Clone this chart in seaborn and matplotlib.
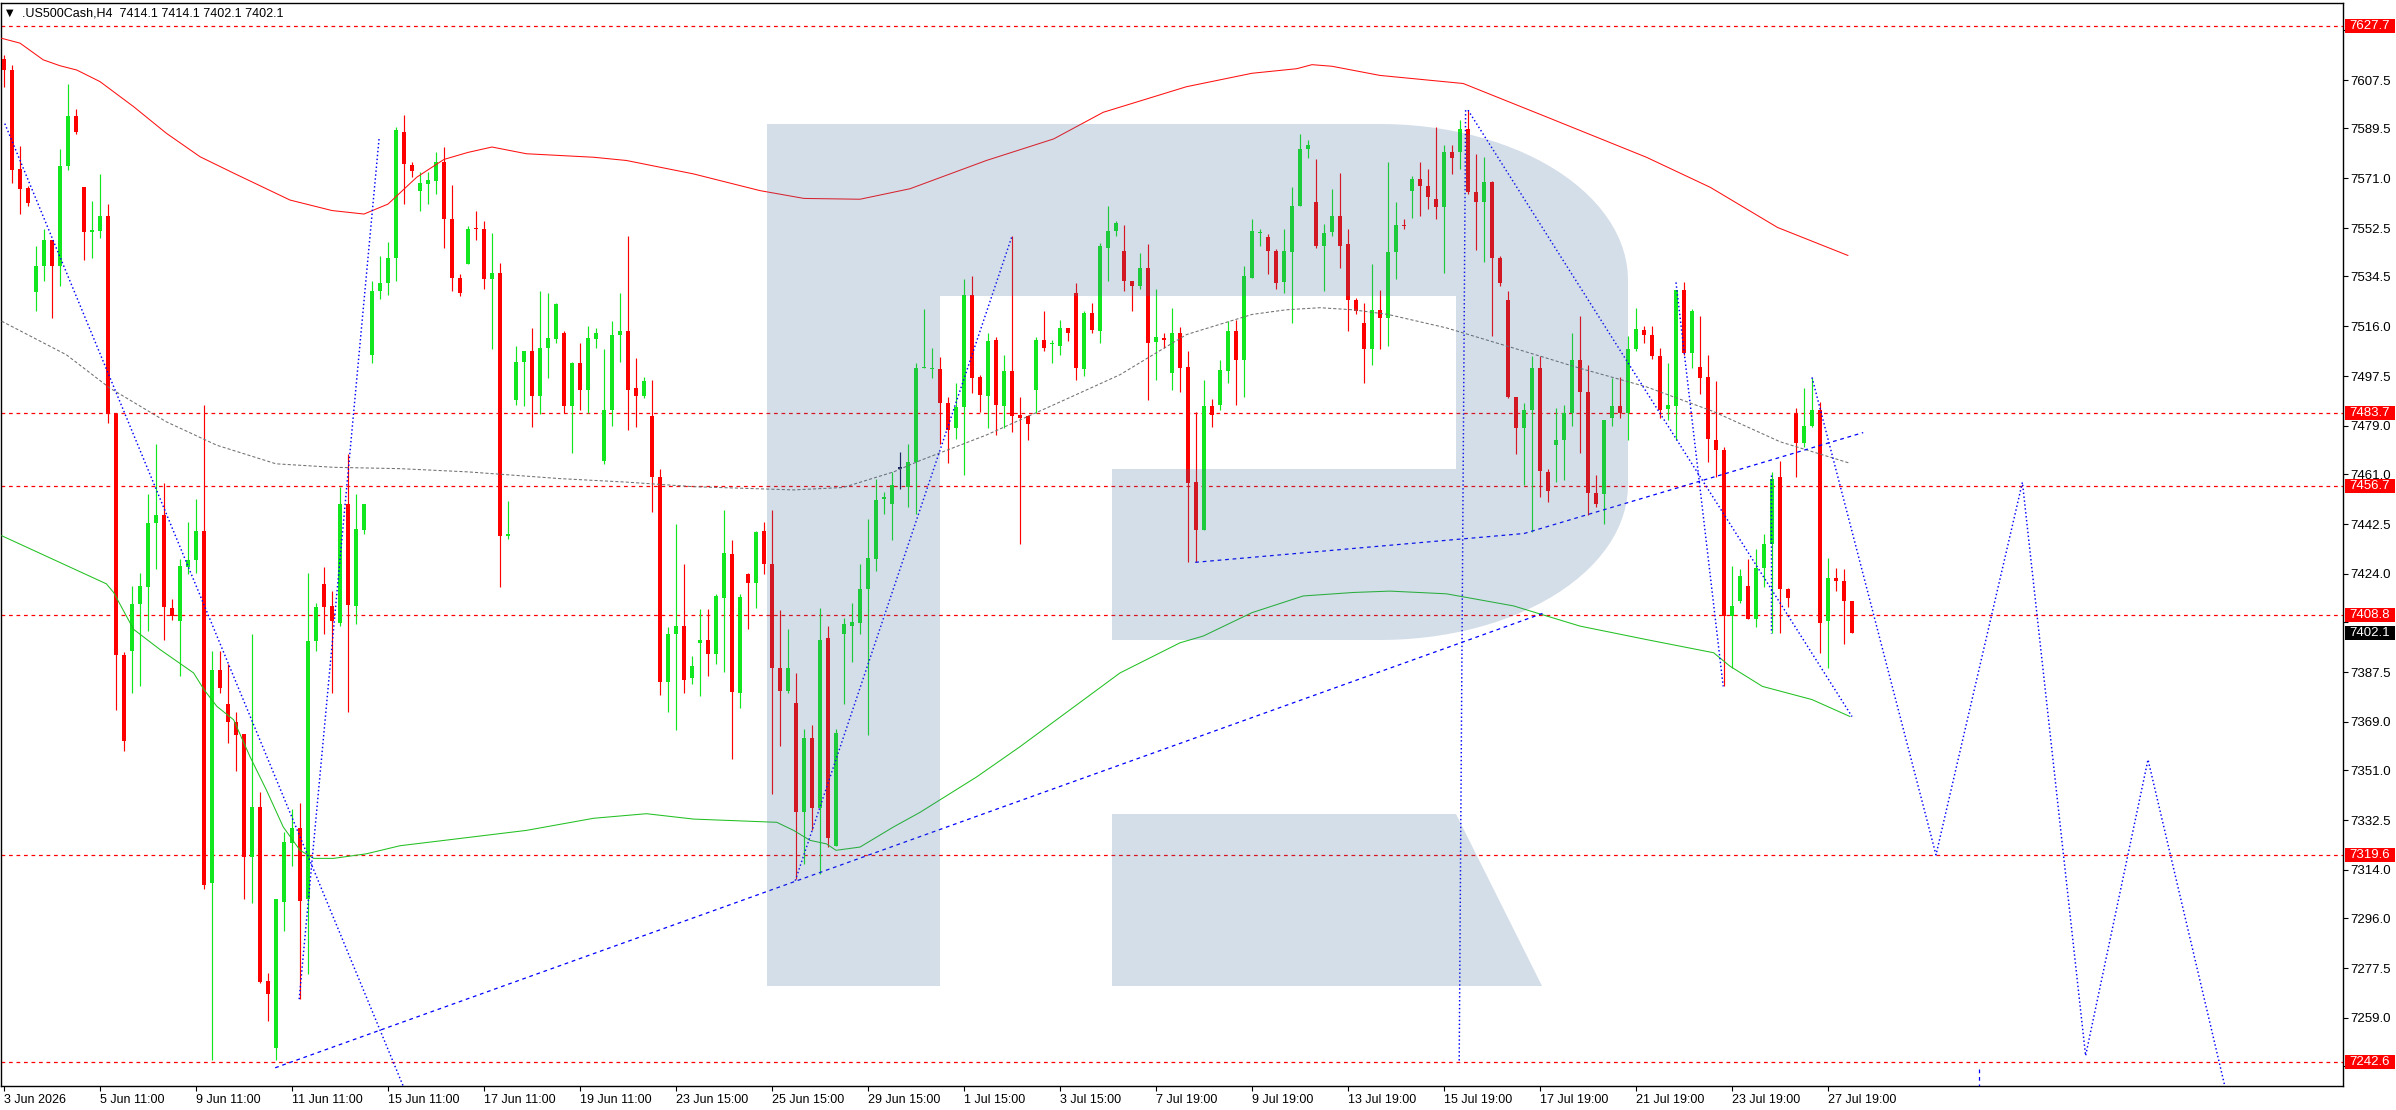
import numpy as np
import pandas as pd
import matplotlib
matplotlib.use("Agg")
import matplotlib.pyplot as plt
import matplotlib.patches as mpatches
import matplotlib.transforms as mtrans
import seaborn as sns

# ---------------- data (H4 candles, bar index 0..231) ----------------
opens = [7615.4, 7611.2, 7574.4, 7567.4, 7528.6, 7538.3, 7548.2, 7538.3, 7575.6, 7594.3,
         7567.6, 7551.2, 7551.5, 7557.0, 7483.5, 7393.9, 7395.2, 7412.7, 7419.1, 7442.8,
         7446.0, 7411.4, 7406.4, 7426.5, 7429.0, 7440.0, 7309.3, 7388.2, 7375.5, 7369.0,
         7364.5, 7318.8, 7337.4, 7272.7, 7247.8, 7302.1, 7324.0, 7329.5, 7303.1, 7399.2,
         7420.3, 7412.1, 7405.9, 7449.9, 7412.1, 7440.2, 7505.4, 7529.1, 7532.1, 7541.3,
         7588.3, 7576.1, 7566.2, 7568.7, 7570.1, 7577.1, 7555.7, 7534.0, 7539.0, 7552.6,
         7552.2, 7533.6, 7535.8, 7438.2, 7488.5, 7502.9, 7506.7, 7490.0, 7507.9, 7511.1,
         7513.6, 7486.3, 7502.2, 7492.5, 7511.1, 7466.1, 7485.0, 7512.9, 7514.1, 7493.0,
         7490.0, 7482.5, 7459.9, 7384.0, 7401.6, 7404.6, 7385.2, 7398.4, 7399.4, 7394.2,
         7415.1, 7431.3, 7379.7, 7423.8, 7420.8, 7440.0, 7427.5, 7389.2, 7380.5, 7376.0,
         7335.4, 7363.1, 7336.9, 7400.1, 7323.0, 7401.6, 7404.6, 7405.9, 7418.3, 7429.5,
         7451.7, 7449.9, 7463.1, 7456.4, 7465.6, 7500.4, 7500.0, 7500.0, 7487.5, 7478.1,
         7486.0, 7527.8, 7497.2, 7490.0, 7510.9, 7486.3, 7499.2, 7483.0, 7482.5, 7492.2,
         7510.9, 7509.4, 7508.7, 7515.4, 7528.3, 7500.0, 7521.1, 7514.1, 7545.2, 7551.5,
         7544.0, 7532.8, 7530.8, 7537.8, 7510.2, 7511.6, 7498.5, 7513.6, 7500.9, 7458.1,
         7440.2, 7486.3, 7486.8, 7499.2, 7514.1, 7503.4, 7534.0, 7550.6, 7549.0, 7544.0,
         7532.3, 7543.5, 7560.7, 7581.8, 7562.0, 7545.7, 7551.0, 7557.0, 7546.5, 7525.8,
         7517.1, 7507.4, 7522.1, 7519.1, 7543.5, 7553.7, 7566.4, 7570.9, 7568.1, 7563.4,
         7560.2, 7580.8, 7580.8, 7589.3, 7565.9, 7562.0, 7569.6, 7541.5, 7525.8, 7489.7,
         7478.1, 7484.8, 7500.4, 7461.9, 7471.8, 7473.6, 7483.8, 7503.4, 7491.7, 7453.9,
         7453.7, 7481.8, 7486.3, 7483.8, 7507.4, 7514.6, 7512.6, 7504.9, 7485.2, 7486.3,
         7529.6, 7505.9, 7500.9, 7497.2, 7473.8, 7470.1, 7408.4, 7414.1, 7419.6, 7407.1,
         7426.3, 7435.2, 7460.1, 7418.3, 7483.8, 7472.6, 7478.8, 7485.0, 7406.4, 7422.5,
         7421.5, 7414.1]
highs = [7616.9, 7613.2, 7583.1, 7568.0, 7545.7, 7552.2, 7548.2, 7581.8, 7606.0, 7596.8,
         7567.6, 7562.7, 7572.6, 7561.4, 7483.5, 7395.0, 7419.6, 7424.5, 7453.7, 7472.3,
         7457.6, 7414.6, 7429.5, 7443.2, 7451.9, 7486.8, 7395.2, 7395.2, 7390.4, 7372.8,
         7364.5, 7401.6, 7342.9, 7275.7, 7303.1, 7328.0, 7336.7, 7338.7, 7424.5, 7413.3,
         7426.5, 7417.6, 7456.4, 7468.6, 7453.7, 7449.9, 7532.8, 7542.0, 7547.2, 7590.0,
         7594.5, 7576.9, 7573.4, 7573.4, 7580.8, 7582.6, 7568.6, 7535.3, 7553.2, 7558.9,
         7555.2, 7550.7, 7539.5, 7451.2, 7508.7, 7506.7, 7515.4, 7529.1, 7528.3, 7524.8,
         7514.1, 7502.9, 7509.9, 7516.1, 7515.4, 7507.4, 7517.9, 7528.3, 7549.5, 7504.2,
         7497.2, 7496.0, 7463.1, 7404.1, 7442.5, 7427.5, 7393.4, 7410.9, 7410.9, 7416.6,
         7447.7, 7436.5, 7416.6, 7424.5, 7440.0, 7443.2, 7447.7, 7410.4, 7403.4, 7387.2,
         7366.5, 7367.8, 7411.4, 7404.6, 7366.5, 7407.6, 7413.3, 7427.5, 7444.4, 7459.4,
         7454.4, 7461.9, 7469.3, 7472.3, 7502.4, 7522.4, 7507.9, 7504.7, 7489.7, 7495.0,
         7533.5, 7534.5, 7497.9, 7513.6, 7512.1, 7505.4, 7549.5, 7489.7, 7483.0, 7512.1,
         7521.6, 7510.9, 7518.4, 7515.4, 7532.1, 7521.6, 7524.6, 7547.0, 7560.7, 7555.2,
         7553.5, 7532.8, 7543.3, 7546.5, 7529.8, 7513.6, 7522.9, 7515.9, 7506.7, 7484.3,
         7496.2, 7488.8, 7503.4, 7517.9, 7518.4, 7538.3, 7555.7, 7552.2, 7550.2, 7544.8,
         7552.2, 7567.6, 7587.6, 7585.1, 7578.1, 7554.0, 7567.1, 7573.1, 7552.0, 7526.6,
         7524.6, 7539.0, 7529.6, 7576.9, 7562.0, 7555.7, 7571.9, 7576.9, 7574.4, 7590.0,
         7583.3, 7583.3, 7592.5, 7596.3, 7580.1, 7578.8, 7570.1, 7542.0, 7529.1, 7489.7,
         7487.5, 7504.9, 7504.9, 7463.1, 7485.5, 7486.8, 7513.6, 7519.9, 7501.7, 7460.6,
         7481.3, 7496.7, 7497.2, 7512.4, 7522.9, 7516.1, 7516.1, 7507.9, 7502.4, 7529.6,
         7532.3, 7522.4, 7519.9, 7505.4, 7495.5, 7471.3, 7427.0, 7425.8, 7429.5, 7433.2,
         7439.0, 7461.9, 7466.1, 7418.8, 7485.5, 7493.0, 7496.7, 7488.0, 7430.0, 7426.3,
         7425.8, 7414.1]
lows = [7605.0, 7569.4, 7557.7, 7560.7, 7521.6, 7532.8, 7518.9, 7531.1, 7573.9, 7587.6,
        7540.8, 7541.5, 7548.7, 7480.0, 7373.5, 7358.1, 7379.7, 7382.2, 7402.9, 7425.8,
        7399.6, 7406.9, 7386.0, 7423.8, 7424.5, 7306.8, 7243.4, 7379.7, 7361.1, 7350.6,
        7303.3, 7301.8, 7272.0, 7258.0, 7243.4, 7291.4, 7315.5, 7266.0, 7275.2, 7395.2,
        7401.6, 7379.7, 7404.6, 7372.8, 7405.4, 7439.0, 7502.4, 7526.1, 7527.8, 7532.8,
        7561.4, 7571.4, 7558.9, 7561.4, 7565.2, 7545.2, 7529.1, 7527.1, 7539.0, 7548.2,
        7529.8, 7507.4, 7419.3, 7437.0, 7486.8, 7486.3, 7478.5, 7483.5, 7496.7, 7509.6,
        7483.8, 7468.8, 7485.0, 7483.8, 7507.9, 7464.9, 7478.8, 7502.9, 7477.3, 7478.5,
        7489.3, 7447.0, 7379.0, 7372.8, 7366.1, 7379.7, 7383.0, 7378.5, 7386.0, 7390.4,
        7387.7, 7355.4, 7374.0, 7403.4, 7411.4, 7423.8, 7342.4, 7359.9, 7379.7, 7310.5,
        7316.3, 7328.7, 7312.5, 7322.5, 7323.0, 7375.5, 7391.4, 7401.6, 7364.1, 7425.0,
        7446.4, 7436.5, 7455.7, 7448.7, 7446.4, 7500.4, 7496.7, 7472.3, 7465.1, 7474.3,
        7460.6, 7491.2, 7484.3, 7478.1, 7475.6, 7478.1, 7476.8, 7435.2, 7473.6, 7483.8,
        7506.7, 7502.2, 7505.4, 7510.4, 7496.0, 7497.5, 7513.6, 7509.9, 7532.8, 7549.5,
        7529.1, 7521.6, 7529.8, 7488.5, 7496.0, 7507.9, 7492.5, 7491.7, 7428.3, 7428.3,
        7440.2, 7478.5, 7484.8, 7495.0, 7486.8, 7489.7, 7534.0, 7546.0, 7535.3, 7529.8,
        7528.3, 7517.4, 7560.7, 7578.4, 7545.2, 7529.1, 7549.5, 7537.8, 7514.1, 7520.4,
        7495.0, 7501.7, 7507.4, 7508.7, 7533.5, 7552.0, 7556.4, 7557.0, 7559.4, 7555.7,
        7535.8, 7572.6, 7574.6, 7565.2, 7544.5, 7539.8, 7512.4, 7531.1, 7489.3, 7468.6,
        7456.9, 7439.5, 7452.4, 7450.7, 7458.1, 7458.9, 7478.8, 7468.8, 7445.7, 7448.7,
        7442.7, 7478.8, 7481.8, 7473.6, 7506.7, 7509.7, 7503.7, 7481.8, 7481.0, 7473.6,
        7505.4, 7500.4, 7491.0, 7465.6, 7460.1, 7382.2, 7389.0, 7413.3, 7407.1, 7404.1,
        7419.1, 7402.1, 7402.1, 7411.6, 7460.1, 7471.3, 7478.5, 7394.7, 7389.2, 7417.8,
        7397.9, 7402.1]
closes = [7611.2, 7573.9, 7566.9, 7561.9, 7538.5, 7548.2, 7538.3, 7575.6, 7594.3, 7588.3,
          7551.0, 7551.4, 7557.0, 7483.5, 7393.9, 7361.8, 7412.9, 7419.6, 7443.0, 7446.0,
          7411.6, 7408.4, 7427.0, 7429.0, 7440.0, 7308.3, 7388.2, 7381.7, 7369.0, 7364.3,
          7318.8, 7337.4, 7272.2, 7267.8, 7303.1, 7324.3, 7329.5, 7302.6, 7399.2, 7411.6,
          7411.6, 7406.4, 7449.9, 7412.6, 7440.7, 7449.9, 7529.1, 7532.1, 7541.3, 7588.8,
          7576.4, 7573.6, 7569.1, 7570.4, 7577.1, 7555.7, 7534.0, 7528.3, 7552.2, 7552.2,
          7533.6, 7535.8, 7438.2, 7439.0, 7502.9, 7506.7, 7490.0, 7507.9, 7511.6, 7524.1,
          7486.3, 7502.2, 7492.5, 7511.6, 7513.4, 7485.0, 7512.9, 7514.1, 7492.5, 7490.0,
          7495.5, 7459.9, 7384.0, 7401.6, 7404.6, 7384.7, 7389.7, 7399.4, 7394.2, 7415.8,
          7431.8, 7380.2, 7415.3, 7420.8, 7439.5, 7427.5, 7389.2, 7380.5, 7389.2, 7335.4,
          7363.1, 7336.9, 7399.6, 7325.7, 7364.8, 7405.4, 7406.1, 7418.3, 7430.0, 7451.4,
          7452.7, 7456.9, 7463.1, 7465.6, 7500.4, 7501.0, 7500.4, 7487.5, 7477.6, 7486.0,
          7527.8, 7496.7, 7490.5, 7510.4, 7486.8, 7499.2, 7482.5, 7481.8, 7479.8, 7510.9,
          7507.9, 7509.9, 7515.4, 7513.4, 7500.4, 7520.9, 7514.6, 7546.0, 7551.5, 7554.5,
          7532.8, 7530.8, 7537.8, 7509.7, 7512.1, 7510.9, 7513.6, 7500.4, 7457.6, 7440.2,
          7486.3, 7483.0, 7499.7, 7514.1, 7503.4, 7534.5, 7551.5, 7551.2, 7544.0, 7532.1,
          7544.0, 7560.7, 7581.8, 7583.3, 7545.7, 7550.7, 7557.0, 7545.7, 7525.8, 7521.6,
          7507.4, 7522.1, 7519.1, 7543.5, 7553.5, 7553.2, 7570.9, 7568.1, 7563.9, 7560.2,
          7580.8, 7578.4, 7589.3, 7565.9, 7562.0, 7569.6, 7541.5, 7532.1, 7489.7, 7478.1,
          7484.8, 7500.4, 7462.4, 7454.9, 7473.6, 7483.8, 7503.4, 7491.7, 7453.9, 7449.9,
          7481.3, 7486.3, 7483.8, 7507.4, 7514.9, 7512.9, 7504.9, 7485.0, 7486.8, 7529.6,
          7505.9, 7521.6, 7496.7, 7474.3, 7470.1, 7408.4, 7412.1, 7423.3, 7407.1, 7426.3,
          7435.2, 7459.4, 7418.3, 7415.1, 7472.6, 7478.8, 7485.0, 7405.9, 7422.5, 7421.3,
          7413.8, 7402.1]

# moving-average style curves (bar index, price)
ma_upper_x = [-0.3, 2, 4.9, 7, 9.1, 12, 16.2, 20.3, 24.5, 28.7, 35.75, 41, 45, 48, 51.6, 55, 58,
              61, 65.3, 73.7, 77.8, 86.2, 94.5, 100, 107, 113.25, 122.8, 131.2, 137.4, 147.8,
              156, 161.6, 163.5, 166, 172, 182.4, 192.8, 205.3, 213.3, 221.7, 230.5]
ma_upper_y = [7623.0, 7621.2, 7615.0, 7612.8, 7611.2, 7606.9, 7597.6, 7587.7, 7579.0, 7572.9,
              7562.9, 7559.0, 7557.7, 7561.4, 7571.4, 7578.0, 7580.6, 7582.6, 7580.1, 7578.8,
              7577.6, 7572.6, 7566.4, 7563.5, 7563.2, 7567.1, 7577.6, 7585.6, 7595.5, 7605.0,
              7610.0, 7611.7, 7613.2, 7612.6, 7609.2, 7606.2, 7593.8, 7578.8, 7567.6, 7552.7,
              7542.3]
ma_mid_x = [-0.3, 7.8, 13.25, 20.3, 26.6, 34, 41.2, 49.5, 58, 69.5, 77.8, 86.2, 98.7, 104.9,
            111.2, 114.5, 122.8, 131.2, 139.5, 147.8, 156, 160.2, 164.5, 168.7, 173, 180.3,
            188.7, 197, 205.3, 213.7, 222, 230.75]
ma_mid_y = [7517.9, 7505.4, 7493.0, 7480.5, 7471.8, 7464.9, 7463.6, 7463.1, 7461.9, 7459.4,
            7458.1, 7456.4, 7455.2, 7456.1, 7461.9, 7466.1, 7475.6, 7486.8, 7498.0, 7512.9,
            7520.4, 7522.1, 7522.9, 7522.1, 7520.4, 7515.4, 7507.9, 7500.4, 7493.5, 7484.3,
            7473.1, 7465.1]
ma_lower_x = [-0.3, 12.8, 13.7, 16.2, 19.5, 23.7, 25, 26.6, 28.7, 30.75, 32.8, 34.9, 37, 38.7,
              41.2, 45.3, 49.5, 57, 65.3, 73.7, 80.3, 86.2, 96.6, 98.7, 100.75, 102.8, 104, 107,
              111.2, 114.5, 121.6, 127, 133.25, 139.5, 147, 149.9, 156, 162.4, 168.7, 173.25,
              180.3, 188.7, 197, 205.3, 213.7, 215.75, 219.8, 226, 230.75]
ma_lower_y = [7438.2, 7420.3, 7417.1, 7403.4, 7395.9, 7387.2, 7381.0, 7374.8, 7369.8, 7356.1,
              7343.7, 7330.0, 7321.3, 7318.3, 7318.3, 7320.0, 7323.0, 7325.7, 7328.7, 7333.2,
              7334.9, 7332.9, 7331.7, 7328.7, 7325.0, 7323.7, 7321.3, 7322.5, 7330.0, 7335.4,
              7348.6, 7359.8, 7373.5, 7387.2, 7398.4, 7400.9, 7409.6, 7415.8, 7417.1, 7417.6,
              7416.6, 7412.1, 7404.6, 7399.6, 7394.7, 7389.7, 7382.2, 7377.3, 7371.0]

# drawn trend / forecast lines (bar index, price)
dotted_lines = [
    ([0.1, 49.9], [7591.3, 7233.7]),
    ([36.9, 46.9], [7266.0, 7586.3]),
    ([98.9, 126.0], [7310.0, 7549.5]),
    ([183.0, 231.0], [7596.3, 7371.0]),
    ([182.7, 181.9], [7596.3, 7242.6]),
    ([209.0, 214.9], [7532.3, 7382.2]),
    ([220.9, 220.9], [7460.6, 7402.1]),
    ([226.0, 241.5, 252.3, 260.2, 268.0, 277.6], [7497.0, 7319.6, 7458.0, 7245.0, 7355.0, 7233.7]),
]
dashed_lines = [
    ([33.9, 192.5], [7240.5, 7409.5]),
    ([148.9, 190.0, 232.4], [7428.3, 7439.0, 7476.5]),
    ([246.9, 246.9], [7240.0, 7233.7]),
]

level_values = [7627.7, 7483.7, 7456.7, 7408.8, 7319.6, 7242.6]
last_price = 7402.1
y_tick_values = [7626.0, 7607.5, 7589.5, 7571.0, 7552.5, 7534.5, 7516.0, 7497.5, 7479.0, 7461.0,
                 7442.5, 7424.0, 7406.0, 7387.5, 7369.0, 7351.0, 7332.5, 7314.0, 7296.0, 7277.5,
                 7259.0, 7241.0]
y_hidden_ticks = [7626.0, 7406.0, 7241.0]   # covered by the price boxes in the chart
x_tick_bars = [0, 12, 24, 36, 48, 60, 72, 84, 96, 108, 120, 132, 144, 156, 168, 180, 192, 204, 216, 228]
x_tick_labels = ["3 Jun 2026", "5 Jun 11:00", "9 Jun 11:00", "11 Jun 11:00", "15 Jun 11:00",
                 "17 Jun 11:00", "19 Jun 11:00", "23 Jun 15:00", "25 Jun 15:00", "29 Jun 15:00",
                 "1 Jul 15:00", "3 Jul 15:00", "7 Jul 19:00", "9 Jul 19:00", "13 Jul 19:00",
                 "15 Jul 19:00", "17 Jul 19:00", "21 Jul 19:00", "23 Jul 19:00", "27 Jul 19:00"]
title_text = ".US500Cash,H4  7414.1 7414.1 7402.1 7402.1"

# ---------------- styling ----------------
sns.set_theme(style="white")
plt.rcParams["font.family"] = ["Liberation Sans", "DejaVu Sans"]

W, H = 2396, 1110
fig = plt.figure(figsize=(W / 100, H / 100), dpi=100)
AX_L, AX_R, AX_T, AX_B = 1, 2343, 3, 1086
ax = fig.add_axes([AX_L / W, (H - AX_B) / H, (AX_R - AX_L) / W, (AX_B - AX_T) / H])
ax.set_facecolor("white")

XMIN, XMAX = -0.375, 292.375
YMIN, YMAX = 7233.73, 7636.11
ax.set_xlim(XMIN, XMAX)
ax.set_ylim(YMIN, YMAX)

UP, DOWN, DOJI = "#12e61e", "#ff0000", "#141450"

df = pd.DataFrame({"bar": np.arange(len(opens)), "open": opens, "high": highs,
                   "low": lows, "close": closes})
diff = df["close"] - df["open"]
colors = np.where(diff.abs() < 0.05, DOJI, np.where(diff > 0, UP, DOWN))

# level lines
for lv in level_values:
    ax.axhline(lv, color="#ff0000", lw=0.9, ls=(0, (3, 3)), zorder=1)

# candles
ax.vlines(df["bar"], df["low"], df["high"], colors=colors, lw=0.85, zorder=3)
body_bottom = np.minimum(df["open"], df["close"])
body_h = np.maximum(diff.abs(), 0.45)
ax.bar(df["bar"], body_h, bottom=body_bottom, width=0.62, color=colors, linewidth=0, zorder=3)

# moving averages via seaborn
sns.lineplot(x=ma_upper_x, y=ma_upper_y, ax=ax, color="#ff1010", lw=0.75, estimator=None,
             sort=False, zorder=4)
sns.lineplot(x=ma_lower_x, y=ma_lower_y, ax=ax, color="#22c022", lw=0.75, estimator=None,
             sort=False, zorder=4)
sns.lineplot(x=ma_mid_x, y=ma_mid_y, ax=ax, color="#707070", lw=0.75, estimator=None,
             sort=False, zorder=4, linestyle=(0, (3, 2)))

for xs, ys in dotted_lines:
    ax.plot(xs, ys, color="#0000ff", lw=1.05, ls=(0, (1.0, 1.7)), zorder=5)
for xs, ys in dashed_lines:
    ax.plot(xs, ys, color="#0000ff", lw=0.9, ls=(0, (3, 3)), zorder=5)

# watermark "R" logo (pixel geometry) drawn on top with transparency
def px2ax(x, y):
    return ((x - AX_L) / (AX_R - AX_L), (AX_B - y) / (AX_B - AX_T))

t1 = np.linspace(np.pi / 2, 0, 30)
top_arc = [(1380 + 248 * np.cos(t), 280 - 156 * np.sin(t)) for t in t1]
t2 = np.linspace(0, -np.pi / 2, 30)
bot_arc = [(1380 + 248 * np.cos(t), 485 - 155 * np.sin(t)) for t in t2]
r_body = [(767, 124)] + top_arc + bot_arc + [(1112, 640), (1112, 469), (1456, 469), (1456, 296),
                                             (940, 296), (940, 986), (767, 986)]
r_leg = [(1112, 814), (1456, 814), (1542, 986), (1112, 986)]
for poly in (r_body, r_leg):
    ax.add_patch(mpatches.Polygon([px2ax(x, y) for x, y in poly], closed=True,
                                  transform=ax.transAxes, facecolor="#426e9e", alpha=0.227,
                                  edgecolor="none", zorder=6))

# axes frame and ticks
for s in ax.spines.values():
    s.set_color("black")
    s.set_linewidth(1.0)
ax.yaxis.tick_right()
ax.set_yticks(y_tick_values)
ax.set_yticklabels(["" if v in y_hidden_ticks else f"{v:.1f}" for v in y_tick_values])
ax.set_xticks(x_tick_bars)
ax.set_xticklabels(x_tick_labels, ha="left")
ax.tick_params(axis="y", which="both", right=True, left=False, length=3.5, width=0.8,
               pad=1.5, labelsize=9.5, colors="black", direction="out")
ax.tick_params(axis="x", which="both", bottom=True, length=3.5, width=0.8, pad=2,
               labelsize=9, colors="black", direction="out")
for lab in ax.get_xticklabels():
    lab.set_horizontalalignment("left")
ax.set_xlabel("")
ax.set_ylabel("")
ax.grid(False)

# price labels on the right scale
blend = mtrans.blended_transform_factory(ax.transAxes, ax.transData)
box_x0 = (2345 - AX_L) / (AX_R - AX_L)
box_w = 50 / (AX_R - AX_L)
box_h = 14 / 2.6915
txt_x = (2349 - AX_L) / (AX_R - AX_L)
for lv in level_values:
    ax.add_patch(mpatches.Rectangle((box_x0, lv - box_h / 2), box_w, box_h, transform=blend,
                                    facecolor="#ff0000", edgecolor="none", clip_on=False, zorder=10))
    ax.text(txt_x, lv, f"{lv:.1f}", transform=blend, color="white", fontsize=9.5,
            va="center", ha="left", clip_on=False, zorder=11)
ax.add_patch(mpatches.Rectangle((box_x0, last_price - box_h / 2), box_w, box_h, transform=blend,
                                facecolor="black", edgecolor="none", clip_on=False, zorder=10))
ax.text(txt_x, last_price, f"{last_price:.1f}", transform=blend, color="white", fontsize=9.5,
        va="center", ha="left", clip_on=False, zorder=11)

# header
ax.text(*px2ax(6, 13), "\u25BC", transform=ax.transAxes, fontsize=7, va="center", ha="left",
        color="black", family=["DejaVu Sans"], zorder=12)
ax.text(*px2ax(22, 13), title_text, transform=ax.transAxes, fontsize=9, va="center", ha="left",
        color="black", zorder=12)

fig.savefig("out.png", dpi=100)
